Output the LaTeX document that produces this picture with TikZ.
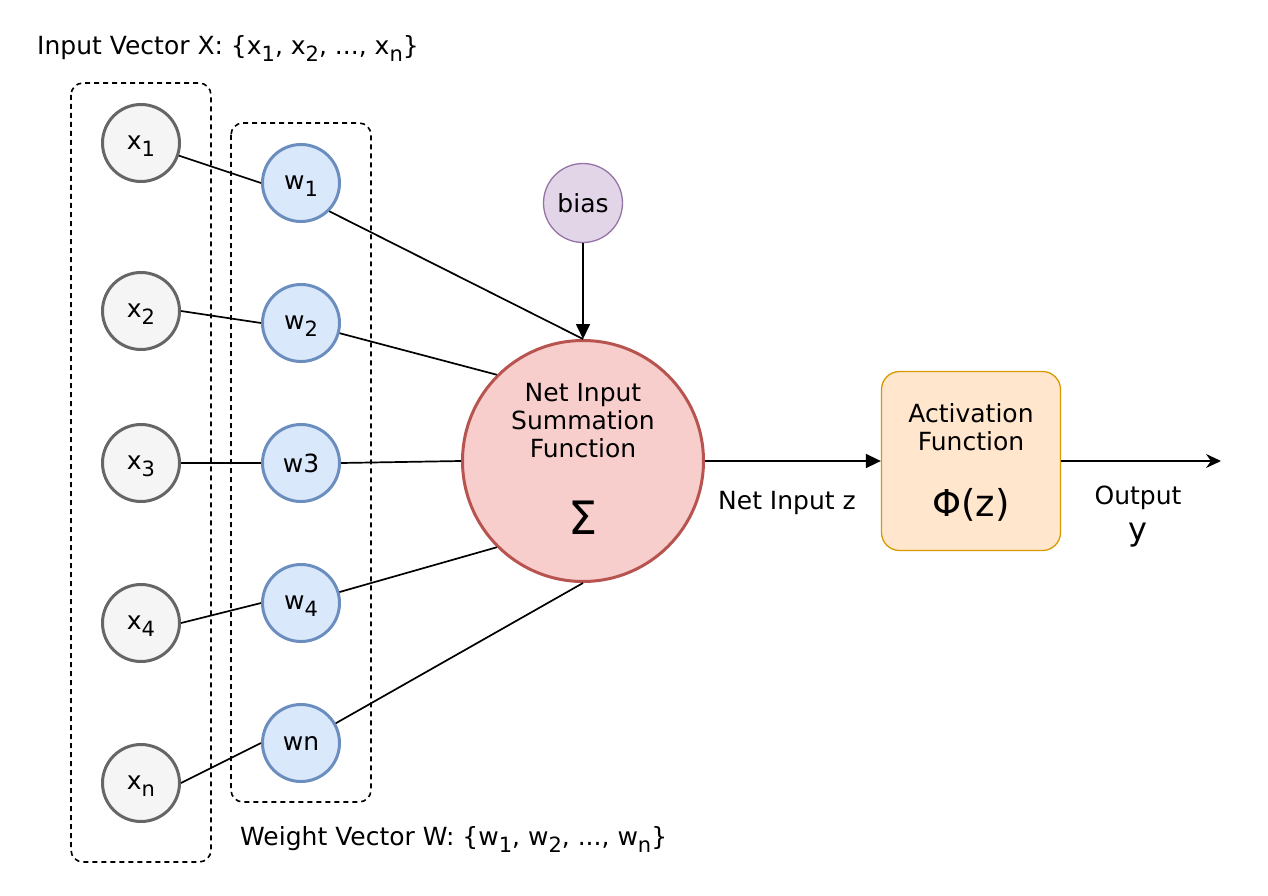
\documentclass[tikz,border=0pt]{standalone}
\usepackage{fontspec}
\setmainfont{DejaVu Sans}
\usetikzlibrary{arrows.meta}
\definecolor{xfill}{HTML}{F5F5F5}
\definecolor{xdraw}{HTML}{666666}
\definecolor{wfill}{HTML}{DAE8FC}
\definecolor{wdraw}{HTML}{6C8EBF}
\definecolor{bfill}{HTML}{E1D5E7}
\definecolor{bdraw}{HTML}{9673A6}
\definecolor{sfill}{HTML}{F8CECC}
\definecolor{sdraw}{HTML}{B85450}
\definecolor{afill}{HTML}{FFE6CC}
\definecolor{adraw}{HTML}{D79B00}
\newcommand\sbx[1]{\raisebox{-0.5ex}[0pt][0pt]{\fontsize{21}{21}\selectfont #1}}
\tikzset{
  txt/.style={font=\fontsize{25}{28}\selectfont, inner sep=0pt},
  xnode/.style={circle, draw=xdraw, fill=xfill, line width=3pt, minimum size=77pt, inner sep=0pt, txt},
  wnode/.style={circle, draw=wdraw, fill=wfill, line width=3pt, minimum size=77pt, inner sep=0pt, txt},
  biasnode/.style={circle, draw=bdraw, fill=bfill, line width=1.3pt, minimum size=79pt, inner sep=0pt, txt},
  sumnode/.style={circle, draw=sdraw, fill=sfill, line width=3pt, minimum size=241pt, inner sep=0pt},
  actnode/.style={rectangle, rounded corners=18pt, draw=adraw, fill=afill, line width=1.3pt, minimum width=179pt, minimum height=179pt, inner sep=0pt},
  grp/.style={draw, dash pattern=on 5pt off 4pt, rounded corners=12pt, line width=1.6pt},
  edge/.style={draw, line width=1.7pt},
  blk/.style={edge, -{Triangle[length=15pt,width=14pt]}},
  cls/.style={edge, -{Stealth[length=15pt,width=14pt,inset=5pt]}},
}
\begin{document}
\begin{tikzpicture}[x=1pt,y=-1pt]
\useasboundingbox (0,0) rectangle (1268,896);
% group boxes
\draw[grp] (71,83) rectangle (211,862);
\draw[grp] (231,123) rectangle (371,802);
% titles
\node[txt, anchor=west] (tin) at (37,48) {Input Vector X: \{x\sbx{1}, x\sbx{2}, ..., x\sbx{n}\}};
\node[txt, anchor=west] (tw) at (240,839) {Weight Vector W: \{w\sbx{1}, w\sbx{2}, ..., w\sbx{n}\}};
% inputs
\node[xnode] (x1) at (141,143) {x\sbx{1}};
\node[xnode] (x2) at (141,311) {x\sbx{2}};
\node[xnode] (x3) at (141,463) {x\sbx{3}};
\node[xnode] (x4) at (141,623) {x\sbx{4}};
\node[xnode] (xn) at (141,783) {x\sbx{n}};
% weights
\node[wnode] (w1) at (301,183) {w\sbx{1}};
\node[wnode] (w2) at (301,323) {w\sbx{2}};
\node[wnode] (w3) at (301,463) {w3};
\node[wnode] (w4) at (301,603) {w\sbx{4}};
\node[wnode] (wn) at (301,743) {wn};
% bias
\node[biasnode] (bias) at (583,203) {bias};
% sum
\node[sumnode] (sum) at (583,461) {};
\node[txt, align=center] (sumt) at (583,421) {Net Input\\Summation\\Function};
\node[txt, font=\fontsize{46}{46}\selectfont] (sig) at (583,518) {Σ};
% activation
\node[actnode] (act) at (971,461) {};
\node[txt, align=center] (actt) at (971,427) {Activation\\Function};
\node[txt, font=\fontsize{37}{37}\selectfont] (phi) at (971,505) {Φ(z)};
% labels
\node[txt] (nz) at (787,503) {Net Input z};
\node[txt] (out) at (1138,498) {Output};
\node[txt, font=\fontsize{32}{32}\selectfont] (yy) at (1138,535) {y};
\coordinate (end) at (1221,461);
% edges
\draw[edge] (x1) -- (w1.west);
\draw[edge] (x2.east) -- (w2.west);
\draw[edge] (x3.east) -- (w3.west);
\draw[edge] (x4.east) -- (w4.west);
\draw[edge] (xn.east) -- (wn.west);
\draw[edge] (w1.-45) -- (sum.north);
\draw[edge] (w2) -- (sum.north west);
\draw[edge] (w3.east) -- (sum.west);
\draw[edge] (w4) -- (sum.south west);
\draw[edge] (wn) -- (sum.south);
\draw[blk] (bias.south) -- (sum.north);
\draw[blk] (sum.east) -- (act.west);
\draw[cls] (act.east) -- (end);
\end{tikzpicture}
\end{document}
